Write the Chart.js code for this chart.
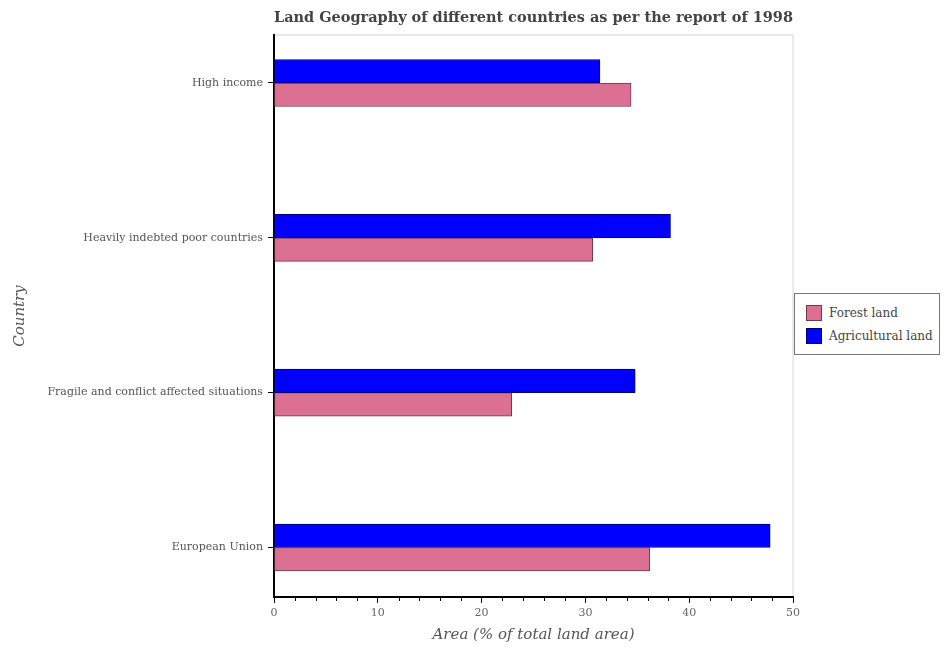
<!DOCTYPE html>
<html>
<head>
<meta charset="utf-8">
<script src="https://cdn.jsdelivr.net/npm/chart.js@4.4.1/dist/chart.umd.min.js"></script>
<style>
  body { margin: 0; background: #fff; }
  #wrap { position: relative; width: 942px; height: 650px; }
  #legend {
    position: absolute; left: 794px; top: 293px; width: 144px; height: 60px;
    border: 1.5px solid #777; background: #fff;
    font: 12px "DejaVu Serif", serif; color: #444;
  }
  .item { position: absolute; left: 11px; height: 16px; line-height: 16px; white-space: nowrap; }
  .item span.sw { display: inline-block; width: 14px; height: 14px; vertical-align: top; margin-right: 7px; }
</style>
</head>
<body>
<div id="wrap">
  <canvas id="chart" width="942" height="650"></canvas>
  <div id="legend"></div>
</div>
<script>
const countries = ['European Union', 'Fragile and conflict affected situations', 'Heavily indebted poor countries', 'High income'];
const forestLand = [36.2, 22.9, 30.7, 34.4];
const agriculturalLand = [47.8, 34.8, 38.2, 31.4];
const seriesNames = ['Forest land', 'Agricultural land'];

const forestColor = '#db7093';
const forestEdge = '#6e3a4c';
const agriColor = '#0000ff';
const agriEdge = '#00006e';

// light frame round the plot + short minor ticks on the x axis
const framePlugin = {
    id: 'frame',
    beforeDraw(chart) {
        const a = chart.chartArea;
        const ctx = chart.ctx;
        ctx.save();
        ctx.strokeStyle = '#e4e4e4';
        ctx.lineWidth = 1.5;
        ctx.strokeRect(a.left, a.top, a.right - a.left, a.bottom - a.top);
        ctx.restore();
    },
    afterDraw(chart) {
        const x = chart.scales.x;
        const ctx = chart.ctx;
        ctx.save();
        ctx.strokeStyle = '#000';
        ctx.lineWidth = 1;
        x.ticks.forEach(t => {
            if (t.value % 10 !== 0) {
                const px = Math.round(x.getPixelForValue(t.value)) + 0.5;
                ctx.beginPath();
                ctx.moveTo(px, chart.chartArea.bottom);
                ctx.lineTo(px, chart.chartArea.bottom + 4);
                ctx.stroke();
            }
        });
        ctx.restore();
    }
};

new Chart(document.getElementById('chart'), {
    type: 'bar',
    data: {
        datasets: [{
            label: seriesNames[1],
            data: agriculturalLand.map((v, i) => ({ x: v, y: i })),
            backgroundColor: agriColor,
            borderColor: agriEdge,
            borderWidth: 1,
            borderSkipped: false,
            barThickness: 23.5
        }, {
            label: seriesNames[0],
            data: forestLand.map((v, i) => ({ x: v, y: i })),
            backgroundColor: forestColor,
            borderColor: forestEdge,
            borderWidth: 1,
            borderSkipped: false,
            barThickness: 23.5
        }]
    },
    options: {
        indexAxis: 'y',
        responsive: false,
        animation: false,
        layout: { padding: { left: 8, right: 149, top: 0, bottom: 6 } },
        plugins: {
            legend: { display: false },
            tooltip: { enabled: false },
            title: {
                display: true,
                text: 'Land Geography of different countries as per the report of 1998',
                align: 'start',
                fullSize: false,
                color: '#444',
                font: { family: 'DejaVu Serif', size: 15, weight: 'bold', lineHeight: 1.2 },
                padding: { top: 9, bottom: 8 }
            }
        },
        scales: {
            x: {
                type: 'linear',
                min: 0,
                max: 50,
                afterBuildTicks: scale => {
                    const t = [];
                    for (let v = 0; v <= 50; v += 2) t.push({ value: v });
                    scale.ticks = t;
                },
                afterFit: scale => { scale.height = 47; },
                ticks: {
                    autoSkip: false,
                    maxRotation: 0,
                    padding: 4,
                    color: '#666',
                    font: { family: 'DejaVu Serif', size: 11 },
                    callback: v => (v % 10 === 0 ? v : '')
                },
                grid: {
                    drawOnChartArea: false,
                    tickLength: 6,
                    tickColor: ctx => (ctx.tick && ctx.tick.value % 10 === 0 ? '#000' : 'rgba(0,0,0,0)')
                },
                border: { color: '#000', width: 2 },
                title: {
                    display: true,
                    text: 'Area (% of total land area)',
                    color: '#555',
                    font: { family: 'DejaVu Serif', size: 15, style: 'italic', lineHeight: 1.2 },
                    padding: { top: 2, bottom: 0 }
                }
            },
            y: {
                type: 'linear',
                offset: false,
                bounds: 'data',
                min: -0.32,
                max: 3.31,
                afterBuildTicks: scale => {
                    scale.ticks = countries.map((c, i) => ({ value: i }));
                },
                afterFit: scale => { scale.width = 266; },
                ticks: {
                    autoSkip: false,
                    padding: 5,
                    color: '#555',
                    font: { family: 'DejaVu Serif', size: 11 },
                    callback: v => countries[v]
                },
                grid: {
                    offset: false,
                    drawOnChartArea: false,
                    tickLength: 6,
                    tickColor: '#000'
                },
                border: { color: '#000', width: 2 },
                title: {
                    display: true,
                    text: 'Country',
                    color: '#555',
                    font: { family: 'DejaVu Serif', size: 15, style: 'italic', lineHeight: 1.2 },
                    padding: { top: 3, bottom: 4 }
                }
            }
        }
    },
    plugins: [framePlugin]
});

// legend box as real text
const legend = document.getElementById('legend');
[[seriesNames[0], forestColor, forestEdge], [seriesNames[1], agriColor, agriEdge]].forEach((s, i) => {
    const row = document.createElement('div');
    row.className = 'item';
    row.style.top = (11 + i * 23) + 'px';
    const sw = document.createElement('span');
    sw.className = 'sw';
    sw.style.background = s[1];
    sw.style.border = '1px solid ' + s[2];
    row.appendChild(sw);
    row.appendChild(document.createTextNode(s[0]));
    legend.appendChild(row);
});
</script>
</body>
</html>
